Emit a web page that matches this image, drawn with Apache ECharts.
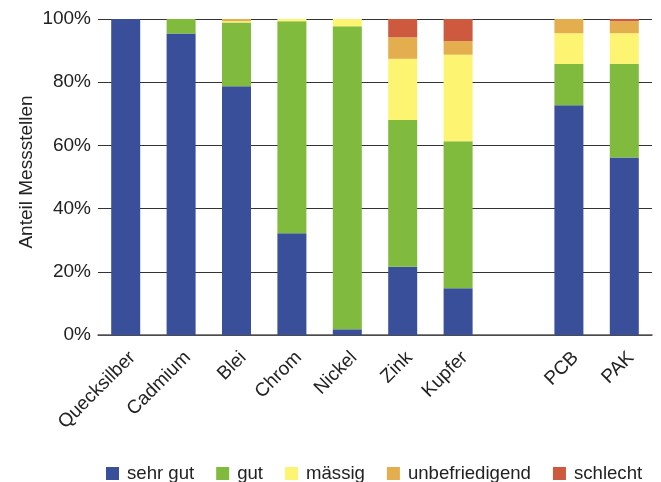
<!DOCTYPE html>
<html>
<head>
<meta charset="utf-8">
<script src="https://cdn.jsdelivr.net/npm/echarts@6/dist/echarts.min.js"></script>
<style>html,body{margin:0;padding:0;background:#fff}#c{width:661px;height:482px}</style>
</head>
<body>
<div id="c"></div>
<script>
const categories = ['Quecksilber','Cadmium','Blei','Chrom','Nickel','Zink','Kupfer','','PCB','PAK'];
const seriesNames = ['sehr gut','gut','mässig','unbefriedigend','schlecht'];
const sehrGut = [100, 95.4, 78.7, 32.2, 1.8, 21.6, 14.8, null, 72.7, 56.2];
const gut = [0, 4.6, 20.2, 67.1, 95.9, 46.4, 46.5, null, 13.1, 29.6];
const maessig = [0, 0, 0.4, 0.7, 2.3, 19.4, 27.4, null, 9.7, 9.7];
const unbefriedigend = [0, 0, 0.7, 0, 0, 6.8, 4.3, null, 4.5, 3.8];
const schlecht = [0, 0, 0, 0, 0, 5.8, 7.0, null, 0, 0.7];
const yTicks = [0, 20, 40, 60, 80, 100];
const colors = ['#3a4f99', '#81bb3d', '#fdf571', '#e4ae4f', '#cd5a3f'];
const values = [sehrGut, gut, maessig, unbefriedigend, schlecht];

const font = 'Liberation Sans, Helvetica, Arial, sans-serif';
const chart = echarts.init(document.getElementById('c'), null, {renderer: 'canvas'});
chart.setOption({
  animation: false,
  color: colors,
  grid: {left: 98, right: 9, top: 19, bottom: 147},
  legend: {
    left: 101, top: 459,
    itemWidth: 13, itemHeight: 13, itemGap: 22,
    icon: 'rect',
    textStyle: {fontFamily: font, fontSize: 18.6, color: '#222', padding: [0, 0, 0, 3]},
    data: seriesNames
  },
  xAxis: {
    type: 'category',
    data: categories,
    axisTick: {show: false},
    axisLine: {lineStyle: {color: '#555', width: 1.5}},
    axisLabel: {rotate: 45, interval: 0, margin: 13, verticalAlign: 'top', fontFamily: font, fontSize: 19, color: '#222'}
  },
  yAxis: {
    type: 'value', min: yTicks[0], max: yTicks[yTicks.length - 1], interval: 20,
    name: 'Anteil Messstellen', nameLocation: 'middle', nameGap: 62, nameMoveOverlap: false,
    nameTextStyle: {fontFamily: font, fontSize: 19, color: '#222', padding: [0, 0, 0, 10]},
    axisLine: {show: false}, axisTick: {show: false},
    splitLine: {lineStyle: {color: '#333', width: 1}},
    axisLabel: {formatter: '{value}%', margin: 7, fontFamily: font, fontSize: 19, color: '#222'}
  },
  series: seriesNames.map((n, i) => ({
    name: n, type: 'bar', stack: 'total', barWidth: 29,
    data: values[i],
    itemStyle: {color: colors[i]}
  }))
});
</script>
</body>
</html>
